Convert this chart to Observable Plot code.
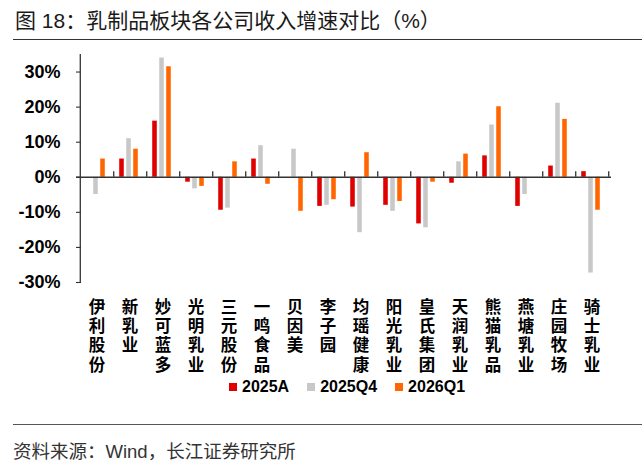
<!DOCTYPE html>
<html>
<head>
<meta charset="utf-8">
<script src="https://cdn.jsdelivr.net/npm/d3@7"></script>
<script src="https://cdn.jsdelivr.net/npm/@observablehq/plot@0.6"></script>
<style>
  html, body { margin: 0; padding: 0; background: #fff; }
  body { width: 642px; height: 471px; position: relative; overflow: hidden;
         font-family: "Liberation Sans", "Noto Sans CJK SC", sans-serif; }
  #title { position: absolute; left: 15px; top: 8px; font-size: 21px; color: #1a1a1a; line-height: 25px; white-space: nowrap; }
  #titleLine { position: absolute; left: 13px; right: 0; top: 38.5px; height: 0; border-top: 1.4px solid #333; }
  #chart { position: absolute; left: 0; top: 40px; }
  #legend { position: absolute; left: 229px; top: 378px; display: flex; align-items: center; font-size: 16px; font-weight: bold; color: #000; white-space: nowrap; }
  #legend .item { display: flex; align-items: center; margin-right: 18px; }
  #legend .sw { width: 7.5px; height: 7.5px; margin-right: 5.5px; }
  #footLine { position: absolute; left: 13px; right: 0; top: 423.5px; height: 0; border-top: 1.5px solid #555; }
  #source { position: absolute; left: 13px; top: 440px; font-size: 18.5px; color: #333; line-height: 24px; white-space: nowrap; }
</style>
</head>
<body>
<div id="title">图 18：乳制品板块各公司收入增速对比（%）</div>
<div id="titleLine"></div>
<div id="chart"></div>
<div id="legend"></div>
<div id="footLine"></div>
<div id="source">资料来源：Wind，长江证券研究所</div>
<script>
const companies = ["伊利股份","新乳业","妙可蓝多","光明乳业","三元股份","一鸣食品","贝因美","李子园","均瑶健康","阳光乳业","皇氏集团","天润乳业","熊猫乳品","燕塘乳业","庄园牧场","骑士乳业"];
const seriesNames = ["2025A", "2025Q4", "2026Q1"];
const s2025A  = [null, 5.2, 16.0, -1.4, -9.4, 5.2, null, -8.3, -8.5, -8.0, -13.3, -1.7, 6.1, -8.3, 3.2, 1.6];
const s2025Q4 = [-4.9, 11.0, 34.0, -3.3, -8.8, 9.0, 8.0, -8.0, -15.8, -9.7, -14.4, 4.4, 14.9, -4.9, 21.1, -27.3];
const s2026Q1 = [5.2, 8.0, 31.5, -2.6, 4.4, -2.0, -9.7, -6.4, 7.0, -6.9, -1.4, 6.6, 20.1, null, 16.5, -9.4];
const yTicks = [-30, -20, -10, 0, 10, 20, 30];
const colors = ["#e00000", "#c8c8c8", "#ff6600"];

const seriesValues = [s2025A, s2025Q4, s2026Q1];
const rows = [];
seriesNames.forEach((s, si) => {
  companies.forEach((c, ci) => {
    const v = seriesValues[si][ci];
    if (v != null) rows.push({company: c, series: s, value: v});
  });
});

const FONT = '"Liberation Sans", "Noto Sans CJK SC", sans-serif';
const W = 642, H = 335, ML = 76, MR = 31;
const bw = (W - ML - MR) / companies.length;
const barW = 5, step = 7;
const inset = (bw - barW) / 2;
const axisColor = "#333";

const barMarks = seriesNames.map((s, si) =>
  Plot.barY(rows.filter(d => d.series === s), {
    x: "company", y: "value", fill: colors[si],
    insetLeft: inset, insetRight: inset, dx: (si - 1) * step - 1
  })
);

const chart = Plot.plot({
  width: W, height: H,
  marginTop: 14, marginBottom: 93, marginLeft: ML, marginRight: MR,
  x: {domain: companies, padding: 0, label: null},
  y: {domain: [-30, 35], label: null},
  style: {fontFamily: FONT, background: "white", color: "#000", overflow: "visible"},
  marks: [
    ...barMarks,
    Plot.ruleY([0], {stroke: axisColor, strokeWidth: 1.3}),
    Plot.ruleX(companies, {x: d => d, dx: bw / 2, y1: 0, y2: 1.6, stroke: axisColor, strokeWidth: 1.3}),
    Plot.ruleX([companies[0]], {x: d => d, dx: -bw / 2, y1: -30, y2: 35, stroke: axisColor, strokeWidth: 1.3}),
    Plot.axisY({ticks: yTicks, tickSize: -5, tickFormat: () => "", label: null, stroke: axisColor, strokeWidth: 1.1}),
    Plot.axisY({ticks: yTicks, tickSize: 0, tickPadding: 16, tickFormat: d => d + "%", label: null,
      fontSize: 18, fontWeight: "bold", fill: "#000"}),
    Plot.axisX({tickSize: 0, tickPadding: 17, tickFormat: d => d.split("").join("\n"), label: null,
      fontSize: 16.5, fontWeight: "bold", lineHeight: 1.16, fill: "#000"})
  ]
});
document.getElementById("chart").appendChild(chart);

const legend = document.getElementById("legend");
seriesNames.forEach((s, i) => {
  const item = document.createElement("div");
  item.className = "item";
  const sw = document.createElement("span");
  sw.className = "sw";
  sw.style.background = colors[i];
  const t = document.createElement("span");
  t.textContent = s;
  item.appendChild(sw); item.appendChild(t);
  legend.appendChild(item);
});
</script>
</body>
</html>
